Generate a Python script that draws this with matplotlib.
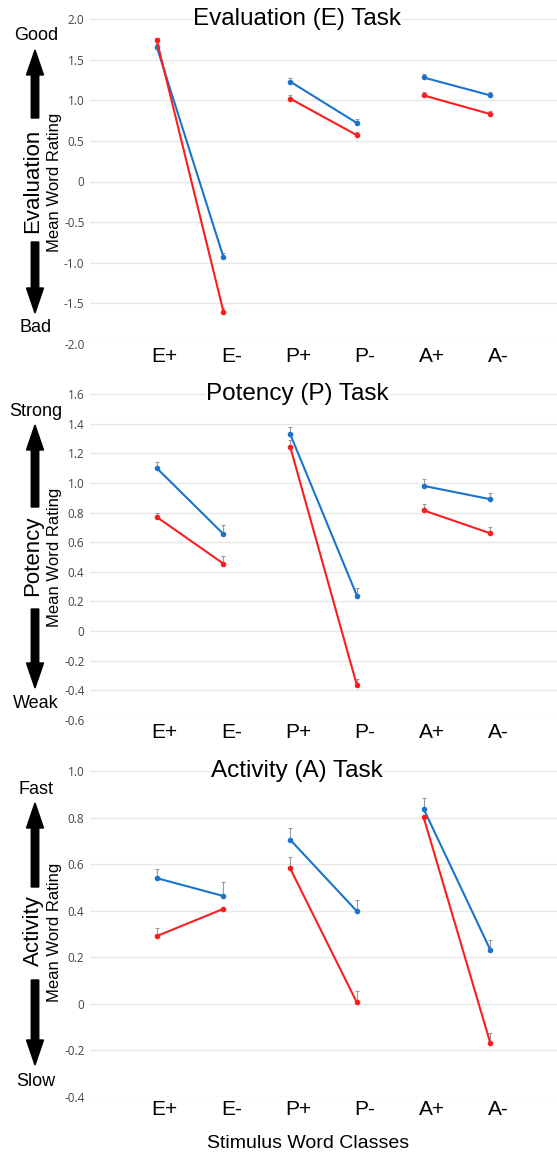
import numpy as np
import matplotlib
matplotlib.use("Agg")
import matplotlib.pyplot as plt
from matplotlib.patches import FancyArrow
from matplotlib.transforms import ScaledTranslation
from matplotlib.ticker import FuncFormatter

# Data
classes = ["E+", "E-", "P+", "P-", "A+", "A-"]

eval_blue = [1.66, -0.93, 1.23, 0.72, 1.28, 1.06]
eval_red = [1.74, -1.60, 1.02, 0.57, 1.06, 0.83]
eval_blue_err = [0.03, 0.05, 0.04, 0.05, 0.04, 0.04]
eval_red_err = [0.03, 0.04, 0.04, 0.04, 0.04, 0.04]

pot_blue = [1.10, 0.655, 1.33, 0.24, 0.98, 0.89]
pot_red = [0.77, 0.455, 1.245, -0.365, 0.815, 0.66]
pot_blue_err = [0.04, 0.06, 0.05, 0.05, 0.045, 0.045]
pot_red_err = [0.03, 0.05, 0.045, 0.045, 0.043, 0.045]

act_blue = [0.54, 0.463, 0.705, 0.398, 0.838, 0.232]
act_red = [0.291, 0.408, 0.582, 0.006, 0.802, -0.168]
act_blue_err = [0.039, 0.059, 0.05, 0.05, 0.046, 0.043]
act_red_err = [0.036, 0.0, 0.049, 0.05, 0.0, 0.041]

W, H = 557, 1153
BLUE = "#1a74cc"
RED = "#fa1e1e"
FONT = "Liberation Sans"

fig = plt.figure(figsize=(W/100, H/100), dpi=100)


def px(x, y):
    # pixel (from top-left) -> inches for dpi_scale_trans
    return x/100., (H-y)/100.


def fmt(v, pos):
    if abs(v) < 1e-9:
        return "0"
    return "%.1f" % v


panels = [
    dict(title="Evaluation (E) Task", ylim=(-2.0, 2.0), step=0.5,
         blue=eval_blue, red=eval_red, be=eval_blue_err, re=eval_red_err,
         top=19, bottom=344, word="Evaluation", hi="Good", lo="Bad",
         up=(50, 118), down=(242, 313), hi_y=35, lo_y=328, mid=181),
    dict(title="Potency (P) Task", ylim=(-0.6, 1.6), step=0.2,
         blue=pot_blue, red=pot_red, be=pot_blue_err, re=pot_red_err,
         top=394, bottom=720, word="Potency", hi="Strong", lo="Weak",
         up=(425, 507), down=(609, 688), hi_y=412, lo_y=703, mid=556),
    dict(title="Activity (A) Task", ylim=(-0.4, 1.0), step=0.2,
         blue=act_blue, red=act_red, be=act_blue_err, re=act_red_err,
         top=771, bottom=1097, word="Activity", hi="Fast", lo="Slow",
         up=(803, 887), down=(980, 1065), hi_y=789, lo_y=1082, mid=931),
]

x = np.arange(1, len(classes)+1)
left_px = 90

for p in panels:
    ax = fig.add_axes([left_px/W, 1-p["bottom"]/H, 1-left_px/W,
                       (p["bottom"]-p["top"])/H])
    lo, hi = p["ylim"]
    ax.set_ylim(lo, hi)
    ax.set_xlim(0, 7)
    ax.set_yticks(np.round(np.arange(lo, hi+1e-6, p["step"]), 2))
    ax.yaxis.set_major_formatter(FuncFormatter(fmt))
    ax.grid(axis="y", color="#e8e8e8", linewidth=1)
    ax.set_axisbelow(True)
    for s in ax.spines.values():
        s.set_visible(False)
    ax.tick_params(axis="y", length=0, pad=4, labelsize=8.5,
                   labelcolor="#444444")
    ax.tick_params(axis="x", length=0, pad=2, labelsize=15)
    for lab in ax.get_yticklabels():
        lab.set_fontfamily("Open Sans")
    ax.set_xticks(x)
    ax.set_xticklabels(classes, fontfamily=FONT)
    for lab in ax.get_xticklabels():
        lab.set_transform(lab.get_transform() +
                          ScaledTranslation(0.08, 0, fig.dpi_scale_trans))

    for i in range(0, 6, 2):
        sl = slice(i, i+2)
        for vals, errs, col in [(p["blue"], p["be"], BLUE),
                                (p["red"], p["re"], RED)]:
            v = np.array(vals[sl])
            e = np.array(errs[sl])
            ax.errorbar(x[sl], v, yerr=[np.zeros_like(e), e], fmt="none",
                        ecolor="#9a9a9a", elinewidth=0.8, capsize=1.5,
                        capthick=0.8, zorder=2)
            ax.plot(x[sl], v, color=col, linewidth=1.5, marker="o",
                    markersize=3, zorder=3)

    # title sits on the top gridline
    tx, ty = px(297, p["top"])
    fig.text(tx, ty, p["title"], transform=fig.dpi_scale_trans,
             ha="center", va="center", fontsize=17.5, fontfamily=FONT,
             bbox=dict(facecolor="white", edgecolor="none", pad=0))

    # left side annotations
    fig.text(*px(36, p["hi_y"]), p["hi"], transform=fig.dpi_scale_trans,
             ha="center", va="center", fontsize=13, fontfamily=FONT)
    fig.text(*px(36, p["lo_y"]), p["lo"], transform=fig.dpi_scale_trans,
             ha="center", va="center", fontsize=13, fontfamily=FONT)
    fig.text(*px(33, p["mid"]), p["word"], transform=fig.dpi_scale_trans,
             ha="center", va="center", rotation=90, fontsize=16,
             fontfamily=FONT)
    fig.text(*px(55, p["mid"]+1), "Mean Word Rating",
             transform=fig.dpi_scale_trans, ha="center", va="center",
             rotation=90, fontsize=12, fontfamily=FONT)

    u0, u1 = p["up"]
    x0, y0 = px(35, u1)
    fig.add_artist(FancyArrow(x0, y0, 0, (u1-u0)/100., width=0.075,
                              head_width=0.17, head_length=0.25,
                              length_includes_head=True, color="black",
                              transform=fig.dpi_scale_trans))
    d0, d1 = p["down"]
    x0, y0 = px(35, d0)
    fig.add_artist(FancyArrow(x0, y0, 0, -(d1-d0)/100., width=0.075,
                              head_width=0.17, head_length=0.25,
                              length_includes_head=True, color="black",
                              transform=fig.dpi_scale_trans))

fig.text(*px(308, 1143), "Stimulus Word Classes",
         transform=fig.dpi_scale_trans, ha="center", va="center",
         fontsize=14, fontfamily=FONT)

fig.savefig("out.png", dpi=100)
